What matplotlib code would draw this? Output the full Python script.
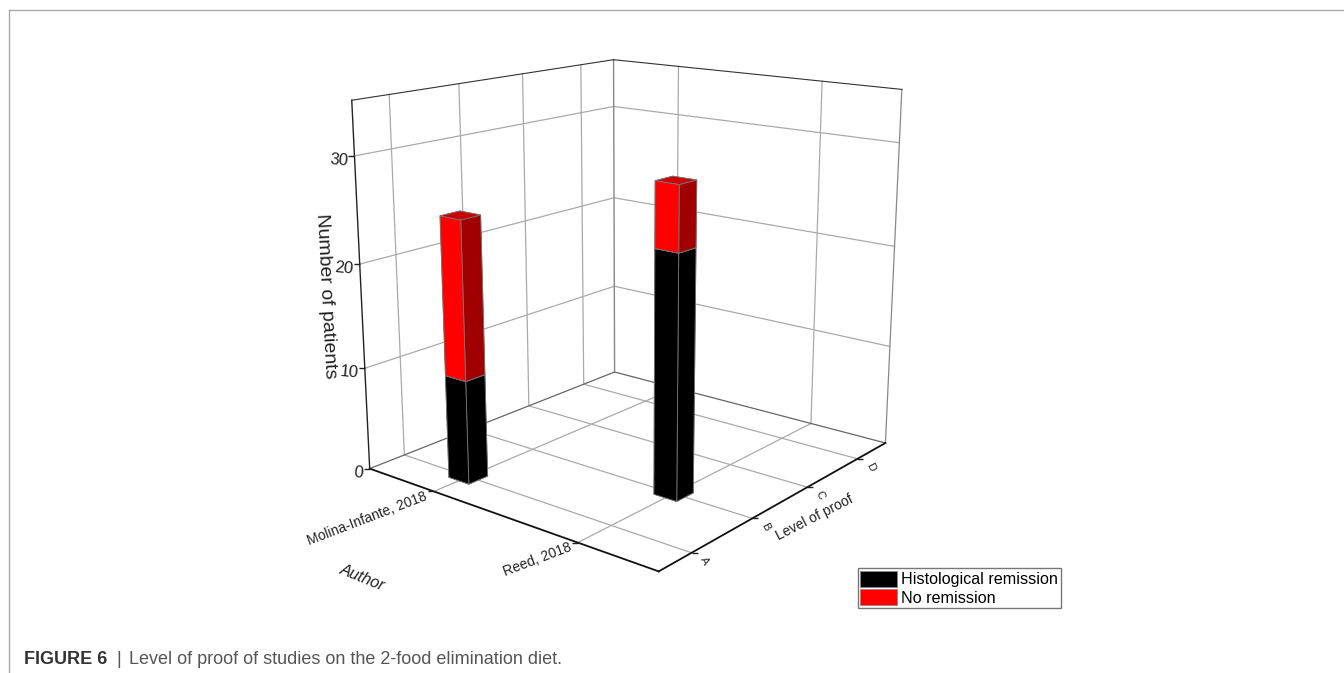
import matplotlib
matplotlib.use("Agg")
import matplotlib.pyplot as plt
from matplotlib.lines import Line2D
from matplotlib.patches import Patch
from matplotlib.path import Path
from mpl_toolkits.mplot3d import proj3d

plt.rcParams['font.family'] = ['Liberation Sans', 'DejaVu Sans']

# Data
authors = ['Molina-Infante, 2018', 'Reed, 2018']
levels = ['A', 'B', 'C', 'D']
z_ticks = [0, 10, 20, 30]
author_pos = [1, 2]
level_pos = [1, 2, 3, 4]
bar_author = [1, 2]
bar_level = [1, 2]
histological = [10, 23]
no_remission = [15, 6]

W, H = 1344, 673
XLIM = (0.5, 2.5)
YLIM = (0.5, 4.6)
ZLIM = (0, 35)
GRID = '#aaaaaa'

fig = plt.figure(figsize=(W / 100, H / 100), dpi=100)
# camera fitted to the box corners of the reference
ax = fig.add_axes([307 / W, 66 / H, 635 / W, 635 / H], projection='3d', computed_zorder=False)
ax.set_proj_type('persp', focal_length=0.4485)
ax.view_init(elev=15.38, azim=-51.15)
ax.set_box_aspect((0.99, 1.04, 1))
ax.set_axis_off()

x0, x1 = XLIM
y0, y1 = YLIM
z0, z1 = ZLIM

# grid on floor and the two walls
for x in author_pos:
    ax.plot([x, x], [y0, y1], [z0, z0], color=GRID, lw=0.9, zorder=1)
    ax.plot([x, x], [y1, y1], [z0, z1], color=GRID, lw=0.9, zorder=1)
for y in level_pos:
    ax.plot([x0, x1], [y, y], [z0, z0], color=GRID, lw=0.9, zorder=1)
    ax.plot([x0, x0], [y, y], [z0, z1], color=GRID, lw=0.9, zorder=1)
for z in z_ticks[1:]:
    ax.plot([x0, x0], [y0, y1], [z, z], color=GRID, lw=0.9, zorder=1)
    ax.plot([x0, x1], [y1, y1], [z, z], color=GRID, lw=0.9, zorder=1)

# box edges
ax.plot([x0, x0], [y0, y1], [z0, z0], color='#666666', lw=0.9, zorder=2)
ax.plot([x0, x1], [y1, y1], [z0, z0], color='#666666', lw=0.9, zorder=2)
ax.plot([x0, x0], [y1, y1], [z0, z1], color='#888888', lw=1.0, zorder=2)
ax.plot([x1, x1], [y1, y1], [z0, z1], color='#888888', lw=0.9, zorder=2)
ax.plot([x0, x0], [y0, y1], [z1, z1], color='#333333', lw=0.8, zorder=2)
ax.plot([x0, x1], [y1, y1], [z1, z1], color='#333333', lw=0.8, zorder=2)
ax.plot([x0, x1], [y0, y0], [z0, z0], color='#111111', lw=1.3, zorder=3)
ax.plot([x1, x1], [y0, y1], [z0, z0], color='#111111', lw=1.3, zorder=3)
ax.plot([x0, x0], [y0, y0], [z0, z1], color='#222222', lw=1.0, zorder=3)

# bars: face order is bottom, top, -y, +y, -x, +x
black_faces = ['k'] * 6
red_faces = ['#a00000', '#cc0000', '#ff0000', '#a00000', '#a00000', '#a00000']
dx, dy = 0.15, 0.28
for xb, yb, h, r in zip(bar_author, bar_level, histological, no_remission):
    ax.bar3d(xb - dx / 2, yb - dy / 2, 0, dx, dy, h, color=black_faces, shade=False,
             edgecolor='#777777', linewidth=0.6, zorder=5)
    ax.bar3d(xb - dx / 2, yb - dy / 2, h, dx, dy, r, color=red_faces, shade=False,
             edgecolor='#777777', linewidth=0.6, zorder=6)

ax.set_xlim(XLIM)
ax.set_ylim(YLIM)
ax.set_zlim(ZLIM)

left_tick = Path([(0, 0), (-1, 0)])
right_tick = Path([(0, 0), (1, 0)])


def tick_label(x, y, z, text, off, **kw):
    u, v, _ = proj3d.proj_transform(x, y, z, ax.get_proj())
    ax.annotate(text, (u, v), xytext=off, textcoords='offset pixels', annotation_clip=False,
                color='#222222', **kw)


for z, s in zip(z_ticks, z_ticks):
    ax.plot([x0], [y0], [z], marker=left_tick, ms=8, mew=1, mec='#222222', zorder=3)
    tick_label(x0, y0, z, str(s), (-6, -4), fontsize=12, ha='right', va='center', rotation=-5)

for x, s in zip(author_pos, authors):
    ax.plot([x], [y0], [z0], marker=left_tick, ms=8, mew=1, mec='#222222', zorder=3)
    tick_label(x, y0, z0, s, (-7, -4), fontsize=10, ha='right', va='center', rotation=21,
               rotation_mode='anchor')

for y, s in zip(level_pos, levels):
    ax.plot([x1], [y], [z0], marker=right_tick, ms=8, mew=1, mec='#222222', zorder=3)
    tick_label(x1, y, z0, s, (13, -8), fontsize=8, ha='center', va='center', rotation=-62)


def fig_text(x, y, text, **kw):
    return fig.text(x / W, 1 - y / H, text, **kw)


fig_text(326, 296, 'Number of patients', fontsize=14, rotation=-87, ha='center', va='center', color='#222222')
fig_text(362, 578, 'Author', fontsize=11.5, rotation=-22, style='italic', ha='center', va='center', color='#222222')
fig_text(815, 518, 'Level of proof', fontsize=10, rotation=27, ha='center', va='center', color='#222222')

handles = [Patch(facecolor='k', edgecolor='#888888', lw=0.5, label='Histological remission'),
           Patch(facecolor='#ff0000', edgecolor='#888888', lw=0.5, label='No remission')]
fig.legend(handles=handles, loc='lower left', bbox_to_anchor=(858 / W, 1 - 608 / H), fontsize=11.6,
           fancybox=False, framealpha=1, edgecolor='#777777', borderaxespad=0, borderpad=0.15,
           handlelength=2.25, handleheight=1.2, handletextpad=0.3, labelspacing=0.1)

# outer frame of the figure panel
fig.add_artist(Line2D([9 / W, 9 / W], [1 - 9.5 / H, 0], color='#aaaaaa', lw=1))
fig.add_artist(Line2D([9 / W, 1], [1 - 9.5 / H, 1 - 9.5 / H], color='#aaaaaa', lw=1))

fig_text(24, 659, 'FIGURE 6', fontsize=13, fontweight='bold', va='center', color='#333333')
fig_text(116, 659, '|', fontsize=13, va='center', color='#555555')
fig_text(129, 659, 'Level of proof of studies on the 2-food elimination diet.', fontsize=13,
         va='center', color='#555555')

plt.savefig('out.png', dpi=100)
